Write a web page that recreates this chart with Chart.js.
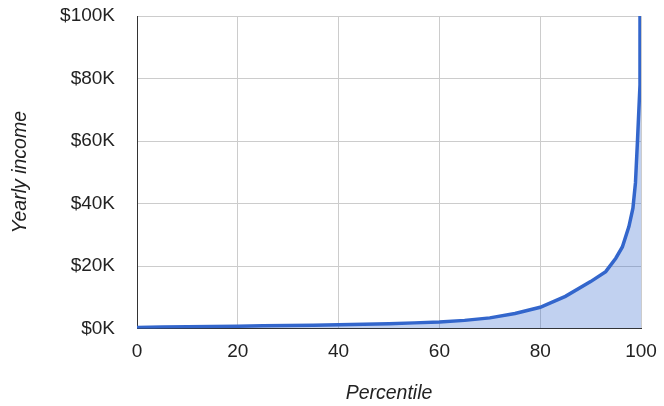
<!DOCTYPE html>
<html>
<head>
<meta charset="utf-8">
<script src="https://cdn.jsdelivr.net/npm/chart.js@4"></script>
<style>
    html, body { margin: 0; padding: 0; background: #fff; }
    canvas { display: block; }
</style>
</head>
<body>
<canvas id="incomeChart" width="664" height="406"></canvas>
<script>
// Income by percentile (values in $K)
const percentiles = [0, 5, 10, 15, 20, 25, 30, 35, 40, 45, 50, 55, 60, 65, 70, 75, 80, 85, 90, 93, 95, 96.3, 97.6, 98.4, 98.9, 99.3, 99.8, 100];
const incomeK = [0.3, 0.45, 0.55, 0.65, 0.75, 0.85, 0.95, 1.05, 1.2, 1.35, 1.55, 1.8, 2.1, 2.6, 3.4, 4.8, 6.8, 10.3, 15.0, 18.2, 22.5, 26.1, 32.6, 38.5, 46.6, 60, 78, 2000];
const xTicks = [0, 20, 40, 60, 80, 100];
const yTicksK = [0, 20, 40, 60, 80, 100];

const points = percentiles.map((p, i) => ({ x: p, y: incomeK[i] * 1000 }));

// keep the tick labels from pushing the plot area inwards
function noScalePadding(scale) {
    scale.paddingTop = 0;
    scale.paddingBottom = 0;
    scale.paddingLeft = 0;
    scale.paddingRight = 0;
}

const ctx = document.getElementById('incomeChart').getContext('2d');
new Chart(ctx, {
    type: 'line',
    data: {
        datasets: [{
            label: 'Yearly income',
            data: points,
            borderColor: '#3366cc',
            backgroundColor: 'rgba(51, 102, 204, 0.3)',
            borderWidth: 3.5,
            fill: 'origin',
            tension: 0,
            pointRadius: 0,
            pointHoverRadius: 0
        }]
    },
    options: {
        responsive: false,
        animation: false,
        layout: { padding: { top: 16, right: 23, left: 0, bottom: 0 } },
        plugins: {
            legend: { display: false },
            tooltip: { enabled: false }
        },
        scales: {
            x: {
                type: 'linear',
                min: 0,
                max: 100,
                afterFit: scale => { scale.height = 77.5; noScalePadding(scale); },
                afterBuildTicks: scale => { scale.ticks = xTicks.map(v => ({ value: v })); },
                grid: { color: '#cccccc', drawTicks: false },
                border: { color: '#333333', width: 1 },
                ticks: {
                    padding: 12,
                    color: '#222222',
                    font: { family: 'Liberation Sans, Arial, sans-serif', size: 19 }
                },
                title: {
                    display: true,
                    text: 'Percentile',
                    color: '#222222',
                    padding: { top: 0, bottom: 1 },
                    font: { family: 'Liberation Sans, Arial, sans-serif', size: 19.5, style: 'italic' }
                }
            },
            y: {
                min: 0,
                max: 100000,
                afterFit: scale => { scale.width = 137; noScalePadding(scale); },
                afterBuildTicks: scale => { scale.ticks = yTicksK.map(v => ({ value: v * 1000 })); },
                grid: { color: '#cccccc', drawTicks: false },
                border: { color: '#333333', width: 1 },
                ticks: {
                    padding: 22,
                    color: '#222222',
                    font: { family: 'Liberation Sans, Arial, sans-serif', size: 19 },
                    callback: value => '$' + (value / 1000) + 'K'
                },
                title: {
                    display: true,
                    text: 'Yearly income',
                    color: '#222222',
                    padding: { top: 9, bottom: 0 },
                    font: { family: 'Liberation Sans, Arial, sans-serif', size: 19.5, style: 'italic' }
                }
            }
        }
    }
});
</script>
</body>
</html>
